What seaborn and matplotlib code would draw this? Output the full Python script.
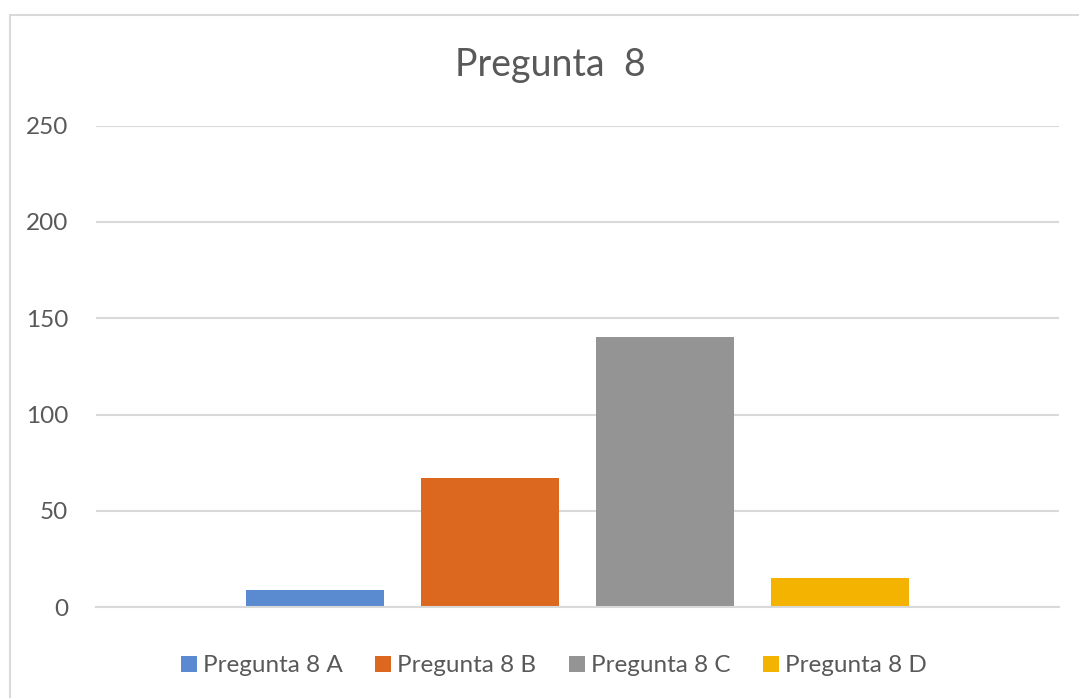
import matplotlib
matplotlib.use("Agg")
import matplotlib.pyplot as plt
from matplotlib.patches import Patch, Rectangle
import seaborn as sns
import pandas as pd

series = ["Pregunta 8 A", "Pregunta 8 B", "Pregunta 8 C", "Pregunta 8 D"]
values = [9, 67, 140, 15]
colors = ["#5A8AD0", "#DC6820", "#949494", "#F4B300"]
yticks = [0, 50, 100, 150, 200, 250]
title = "Pregunta  8"

sns.set_theme(style="white")
plt.rcParams["font.family"] = ["Lato", "DejaVu Sans"]

df = pd.DataFrame({"serie": series, "valor": values})

fig = plt.figure(figsize=(10.79, 6.98), dpi=100)
ax = fig.add_axes([96/1079, 1 - 607.3/698, (1059-96)/1079, (607.3-125.5)/698])

sns.barplot(data=df, x="serie", y="valor", hue="serie", palette=colors,
            width=0.787, legend=False, ax=ax, saturation=1, edgecolor="none")

ax.set_xlim(-1.253, 4.253)
ax.set_ylim(0, 250)
ax.set_yticks(yticks)
ax.set_yticklabels([str(t) for t in yticks], color="#595959", fontsize=17.5)
ax.tick_params(axis="y", length=0, pad=20)
ax.set_xticks([])
ax.set_xlabel("")
ax.set_ylabel("")
ax.grid(axis="y", color="#D9D9D9", linewidth=1.5)
ax.set_axisbelow(True)
for s in ["top", "right", "left"]:
    ax.spines[s].set_visible(False)
ax.spines["bottom"].set_color("#D9D9D9")
ax.spines["bottom"].set_linewidth(1.5)

fig.text(550.5/1079, 1 - 65/698, title, ha="center", va="center",
         fontsize=27, color="#595959")

handles = [Patch(facecolor=c, edgecolor="none", label=s) for c, s in zip(colors, series)]
fig.legend(handles=handles, loc="center", bbox_to_anchor=(554/1079, 1 - 666/698),
           ncol=4, frameon=False, fontsize=17.5, labelcolor="#595959",
           handlelength=0.65, handleheight=0.65, handletextpad=0.25,
           columnspacing=1.35, borderaxespad=0)

fig.patches.append(Rectangle((10/1079, -0.1), 1.2, 1.1 - 15/698, transform=fig.transFigure,
                             fill=False, edgecolor="#D9D9D9", linewidth=1.5))

fig.savefig("out.png", dpi=100)
